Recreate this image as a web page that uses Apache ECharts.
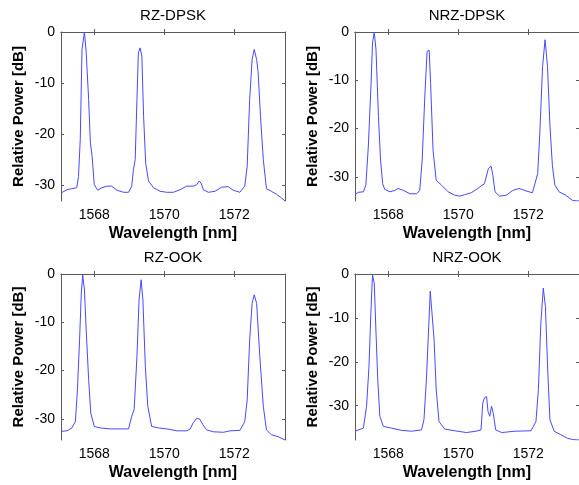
<!DOCTYPE html>
<html>
<head>
<meta charset="utf-8">
<script src="https://cdn.jsdelivr.net/npm/echarts@6/dist/echarts.min.js"></script>
<style>
html,body{margin:0;padding:0;background:#fff;}
#chart{width:579px;height:485px;}
</style>
</head>
<body>
<div id="chart"></div>
<script>
// ---- data ----
const panelTitles = ['RZ-DPSK', 'NRZ-DPSK', 'RZ-OOK', 'NRZ-OOK'];
const xTicks = [1568, 1570, 1572];
const yTicks = [-30, -20, -10, 0];
const xMin = 1567.05, xMax = 1573.45;
const yMins = [-33, -35, -34.4, -37.8];

const rzDpskWl = [1567.06,1567.22,1567.36,1567.50,1567.55,1567.60,1567.65,1567.72,1567.77,1567.84,1567.89,1567.94,1568.00,1568.10,1568.22,1568.36,1568.50,1568.65,1568.84,1568.98,1569.07,1569.12,1569.17,1569.22,1569.26,1569.31,1569.36,1569.41,1569.47,1569.55,1569.69,1569.88,1570.07,1570.26,1570.45,1570.64,1570.83,1570.93,1571.00,1571.05,1571.12,1571.26,1571.45,1571.64,1571.83,1571.97,1572.16,1572.30,1572.37,1572.44,1572.51,1572.57,1572.64,1572.68,1572.75,1572.83,1572.92,1573.06,1573.21,1573.35,1573.45];
const rzDpskDb = [-31.4,-30.8,-30.6,-30.4,-28.2,-21.0,-3.4,0,-4.0,-13.2,-21.7,-24.3,-29.8,-30.9,-30.4,-30.1,-30.1,-30.9,-31.3,-31.3,-30.1,-26.9,-24.9,-13.2,-4.1,-3.1,-4.7,-16.5,-25.6,-29.1,-30.4,-31.1,-31.3,-31.3,-30.8,-30.1,-30.1,-29.8,-29.1,-29.5,-30.8,-31.3,-31.1,-30.3,-30.2,-30.9,-31.3,-30.1,-26.2,-13.2,-5.4,-3.4,-5.4,-7.7,-16.5,-24.9,-30.6,-31.1,-31.7,-32.4,-33.0];

const nrzDpskWl = [1567.05,1567.15,1567.29,1567.36,1567.43,1567.51,1567.55,1567.60,1567.65,1567.72,1567.78,1567.84,1567.90,1568.05,1568.19,1568.28,1568.43,1568.62,1568.81,1568.90,1568.97,1569.04,1569.11,1569.17,1569.21,1569.28,1569.37,1569.52,1569.71,1569.90,1570.04,1570.18,1570.37,1570.56,1570.75,1570.80,1570.86,1570.94,1570.99,1571.05,1571.18,1571.37,1571.56,1571.74,1571.93,1572.12,1572.27,1572.33,1572.41,1572.48,1572.55,1572.62,1572.69,1572.76,1572.88,1573.07,1573.27,1573.45];
const nrzDpskDb = [-33.6,-33.2,-33.1,-31.7,-23.8,-10.6,-2.3,0,-3.7,-17.5,-26.5,-31.4,-32.6,-33.1,-32.8,-32.4,-32.8,-33.5,-33.5,-32.8,-26.5,-14.1,-4.0,-3.8,-10.6,-24.5,-30.7,-31.7,-33.1,-33.8,-34.0,-33.7,-33.3,-32.4,-31.4,-31.0,-28.3,-27.8,-29.7,-33.1,-34.0,-33.8,-32.8,-32.4,-32.9,-33.3,-29.3,-21.0,-7.1,-1.6,-7.1,-19.4,-27.7,-31.7,-33.1,-33.8,-34.9,-35.0];

const rzOokWl = [1567.06,1567.22,1567.36,1567.46,1567.52,1567.58,1567.63,1567.67,1567.72,1567.77,1567.84,1567.90,1568.00,1568.17,1568.46,1568.74,1568.98,1569.07,1569.14,1569.22,1569.28,1569.34,1569.39,1569.46,1569.53,1569.64,1569.83,1570.07,1570.36,1570.64,1570.74,1570.83,1570.93,1571.02,1571.10,1571.21,1571.40,1571.69,1571.88,1572.16,1572.30,1572.37,1572.44,1572.51,1572.57,1572.64,1572.73,1572.83,1572.92,1573.06,1573.25,1573.45];
const rzOokDb = [-32.6,-32.5,-31.9,-30.6,-24.0,-13.7,-4.0,-0.2,-3.3,-11.6,-21.9,-28.8,-31.6,-31.9,-32.1,-32.1,-32.1,-29.5,-28.1,-17.1,-5.4,-1.2,-5.4,-19.2,-27.4,-31.6,-31.9,-32.1,-32.5,-32.5,-32.1,-30.8,-29.9,-30.1,-31.2,-32.3,-32.7,-32.8,-32.5,-32.4,-30.6,-26.1,-13.7,-6.1,-4.3,-6.1,-17.1,-27.4,-32.3,-33.3,-33.7,-34.4];

const nrzOokWl = [1567.05,1567.10,1567.29,1567.38,1567.45,1567.50,1567.55,1567.60,1567.65,1567.70,1567.76,1567.86,1568.09,1568.38,1568.66,1568.95,1569.02,1569.09,1569.16,1569.20,1569.25,1569.31,1569.37,1569.45,1569.61,1569.90,1570.23,1570.51,1570.65,1570.70,1570.75,1570.81,1570.85,1570.90,1570.95,1571.00,1571.07,1571.24,1571.62,1572.08,1572.22,1572.29,1572.36,1572.43,1572.49,1572.56,1572.62,1572.74,1572.93,1573.12,1573.27,1573.45];
const nrzOokDb = [-35.8,-35.7,-35.1,-30.1,-21.0,-9.6,-0.2,-2.1,-13.4,-24.1,-32.4,-34.7,-35.1,-35.6,-35.8,-35.5,-33.2,-24.1,-11.2,-3.9,-3.6,-15.0,-26.3,-33.6,-35.3,-35.7,-36.1,-35.8,-35.5,-29.4,-28.2,-27.9,-31.3,-32.4,-30.1,-31.7,-35.5,-36.1,-35.8,-35.7,-33.6,-26.3,-11.2,-3.2,-7.4,-22.6,-33.2,-35.8,-36.6,-37.4,-37.7,-37.8];

const panelWl = [rzDpskWl, nrzDpskWl, rzOokWl, nrzOokWl];
const panelDb = [rzDpskDb, nrzDpskDb, rzOokDb, nrzOokDb];

// ---- layout ----
const FONT = 'Liberation Sans, Arial, Helvetica, sans-serif';
const grids = [
  {left: 61, top: 32, width: 224, height: 169},
  {left: 355, top: 32, width: 225, height: 169},
  {left: 61, top: 274, width: 224, height: 166},
  {left: 355, top: 274, width: 225, height: 166}
];
const axisCol = '#5a5a5a';
const lineCol = '#4848ff';

const xAxes = [], yAxes = [], series = [], graphics = [];
grids.forEach((g, i) => {
  const baseLine = {show: true, lineStyle: {color: axisCol, width: 1}};
  xAxes.push({
    type: 'value', gridIndex: i, position: 'bottom', min: xMin, max: xMax,
    axisLine: baseLine,
    axisTick: {show: true, inside: true, length: 3, customValues: xTicks, lineStyle: {color: axisCol}},
    axisLabel: {show: true, customValues: xTicks, margin: 7, color: '#000', fontSize: 14, fontFamily: FONT, formatter: v => String(v)},
    splitLine: {show: false},
    name: 'Wavelength [nm]', nameLocation: 'middle', nameGap: 25,
    nameTextStyle: {fontSize: 16, fontWeight: 'bold', color: '#000', fontFamily: FONT}
  });
  xAxes.push({
    type: 'value', gridIndex: i, position: 'top', min: xMin, max: xMax,
    axisLine: baseLine,
    axisTick: {show: true, inside: true, length: 3, customValues: xTicks, lineStyle: {color: axisCol}},
    axisLabel: {show: false}, splitLine: {show: false}
  });
  yAxes.push({
    type: 'value', gridIndex: i, position: 'left', min: yMins[i], max: 0,
    axisLine: baseLine,
    axisTick: {show: true, inside: true, length: 3, customValues: yTicks, lineStyle: {color: axisCol}},
    axisLabel: {show: true, customValues: yTicks, margin: 6, color: '#000', fontSize: 14, fontFamily: FONT, formatter: v => String(v)},
    splitLine: {show: false},
    name: 'Relative Power [dB]', nameLocation: 'middle', nameGap: 35, nameRotate: 90,
    nameTextStyle: {fontSize: 15, fontWeight: 'bold', color: '#000', fontFamily: FONT}
  });
  yAxes.push({
    type: 'value', gridIndex: i, position: 'right', min: yMins[i], max: 0,
    axisLine: baseLine,
    axisTick: {show: true, inside: true, length: 3, customValues: yTicks, lineStyle: {color: axisCol}},
    axisLabel: {show: false}, splitLine: {show: false}
  });
  series.push({
    type: 'line', xAxisIndex: 2 * i, yAxisIndex: 2 * i,
    data: panelWl[i].map((w, k) => [w, panelDb[i][k]]),
    showSymbol: false, symbol: 'none', smooth: false, clip: true,
    lineStyle: {color: lineCol, width: 1}, animation: false
  });
  graphics.push({
    type: 'text', x: g.left + g.width / 2 - (i % 2 ? 0.5 : 0), y: g.top - 16.5,
    style: {
      text: panelTitles[i], fill: '#000', fontSize: 15, fontFamily: FONT,
      align: 'center', verticalAlign: 'middle'
    }
  });
});

const chart = echarts.init(document.getElementById('chart'), null, {renderer: 'canvas'});
chart.setOption({
  animation: false,
  backgroundColor: '#fff',
  grid: grids,
  xAxis: xAxes,
  yAxis: yAxes,
  series: series,
  graphic: graphics
});
</script>
</body>
</html>
